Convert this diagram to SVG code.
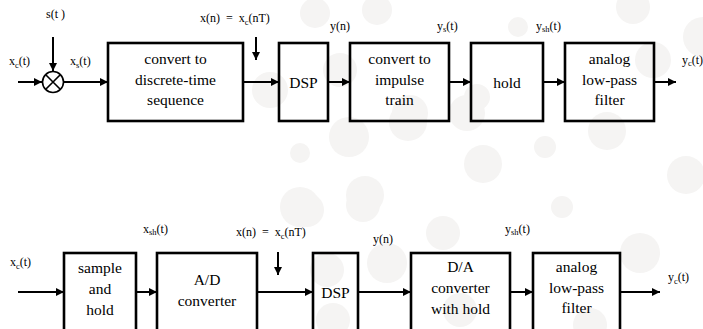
<svg xmlns="http://www.w3.org/2000/svg" width="703" height="329" viewBox="0 0 703 329">
<defs>
<marker id="ah" viewBox="0 0 10 10" refX="10" refY="5" markerWidth="9" markerHeight="8" markerUnits="userSpaceOnUse" orient="auto">
<path d="M0,0 L10,5 L0,10 z" fill="#000"/>
</marker>
</defs>
<style>
.bg{fill:#f5f4f3}
.box{fill:none;stroke:#000;stroke-width:2.6}
.ln{fill:none;stroke:#000;stroke-width:2;marker-end:url(#ah)}
text{font-family:'Liberation Serif','Times New Roman','DejaVu Serif',serif;fill:#000}
.bt{font-size:15.5px;text-anchor:middle}
.lb{font-size:12px}
.sb{font-size:8.5px}
</style>
<rect width="703" height="329" fill="#fff"/>
<g id="background">
<circle class="bg" cx="315" cy="13" r="15"/>
<circle class="bg" cx="377" cy="10" r="15"/>
<circle class="bg" cx="340" cy="70" r="17"/>
<circle class="bg" cx="270" cy="90" r="18"/>
<circle class="bg" cx="410" cy="113" r="18"/>
<circle class="bg" cx="518" cy="27" r="10"/>
<circle class="bg" cx="633" cy="7" r="17"/>
<circle class="bg" cx="653" cy="60" r="18"/>
<circle class="bg" cx="703" cy="37" r="20"/>
<circle class="bg" cx="477" cy="97" r="13"/>
<circle class="bg" cx="349" cy="137" r="20"/>
<circle class="bg" cx="408" cy="122" r="19"/>
<circle class="bg" cx="467" cy="113" r="18"/>
<circle class="bg" cx="545" cy="147" r="11"/>
<circle class="bg" cx="483" cy="164" r="19"/>
<circle class="bg" cx="607" cy="131" r="19"/>
<circle class="bg" cx="686" cy="175" r="19"/>
<circle class="bg" cx="365" cy="195" r="19"/>
<circle class="bg" cx="562" cy="207" r="11"/>
<circle class="bg" cx="307" cy="210" r="17"/>
<circle class="bg" cx="300" cy="153" r="10"/>
<circle class="bg" cx="300" cy="207" r="20"/>
<circle class="bg" cx="363" cy="205" r="17"/>
<circle class="bg" cx="387" cy="263" r="20"/>
<circle class="bg" cx="327" cy="270" r="17"/>
<circle class="bg" cx="443" cy="233" r="17"/>
<circle class="bg" cx="460" cy="310" r="17"/>
<circle class="bg" cx="333" cy="320" r="17"/>
<circle class="bg" cx="640" cy="253" r="20"/>
<circle class="bg" cx="590" cy="325" r="17"/>
</g>
<g id="connectors">
<line class="ln" x1="18" y1="82" x2="42" y2="82"/>
<line class="ln" x1="53" y1="37" x2="53" y2="71"/>
<line class="ln" x1="64" y1="82" x2="108" y2="82"/>
<line class="ln" x1="243" y1="82" x2="279" y2="82"/>
<line class="ln" x1="256" y1="37" x2="256" y2="60"/>
<line class="ln" x1="328" y1="82" x2="350" y2="82"/>
<line class="ln" x1="449" y1="82" x2="471" y2="82"/>
<line class="ln" x1="543" y1="82" x2="565" y2="82"/>
<line class="ln" x1="654" y1="82" x2="676" y2="82"/>
<line class="ln" x1="18" y1="292" x2="64" y2="292"/>
<line class="ln" x1="136" y1="292" x2="157" y2="292"/>
<line class="ln" x1="257" y1="292" x2="313" y2="292"/>
<line class="ln" x1="278" y1="252" x2="278" y2="275"/>
<line class="ln" x1="358" y1="292" x2="411" y2="292"/>
<line class="ln" x1="510" y1="292" x2="533" y2="292"/>
<line class="ln" x1="620" y1="292" x2="660" y2="292"/>
</g>
<g id="mult">
<circle cx="53" cy="82" r="10.5" fill="#fff" stroke="#000" stroke-width="1.6"/>
<path d="M46,75 L60,89 M60,75 L46,89" stroke="#000" stroke-width="1.6"/>
</g>
<g id="n1"><rect class="box" x="108" y="43" width="135" height="78"/>
<text class="bt" x="175.5" y="64">convert to</text><text class="bt" x="175.5" y="85">discrete-time</text><text class="bt" x="175.5" y="105">sequence</text></g>
<g id="n2"><rect class="box" x="279" y="43" width="49" height="78"/>
<text class="bt" x="303.5" y="88">DSP</text></g>
<g id="n3"><rect class="box" x="350" y="43" width="99" height="78"/>
<text class="bt" x="399.5" y="64">convert to</text><text class="bt" x="399.5" y="85">impulse</text><text class="bt" x="399.5" y="105">train</text></g>
<g id="n4"><rect class="box" x="471" y="43" width="72" height="78"/>
<text class="bt" x="507" y="88">hold</text></g>
<g id="n5"><rect class="box" x="565" y="43" width="89" height="78"/>
<text class="bt" x="609.5" y="64">analog</text><text class="bt" x="609.5" y="85">low-pass</text><text class="bt" x="609.5" y="105">filter</text></g>
<g id="m1"><rect class="box" x="64" y="253" width="72" height="90"/>
<text class="bt" x="100" y="273">sample</text><text class="bt" x="100" y="294">and</text><text class="bt" x="100" y="315">hold</text></g>
<g id="m2"><rect class="box" x="157" y="253" width="100" height="90"/>
<text class="bt" x="207" y="285">A/D</text><text class="bt" x="207" y="306">converter</text></g>
<g id="m3"><rect class="box" x="313" y="253" width="45" height="90"/>
<text class="bt" x="335.5" y="298">DSP</text></g>
<g id="m4"><rect class="box" x="411" y="253" width="99" height="90"/>
<text class="bt" x="460.5" y="272">D/A</text><text class="bt" x="460.5" y="293">converter</text><text class="bt" x="460.5" y="314">with hold</text></g>
<g id="m5"><rect class="box" x="533" y="253" width="87" height="90"/>
<text class="bt" x="576.5" y="272">analog</text><text class="bt" x="576.5" y="293">low-pass</text><text class="bt" x="576.5" y="313">filter</text></g>
<g id="labels">
<text class="lb" x="46" y="18">s(t )</text>
<text class="lb" x="9" y="65">x<tspan class="sb" dy="3">c</tspan><tspan dy="-3">(t)</tspan></text>
<text class="lb" x="70" y="65">x<tspan class="sb" dy="3">s</tspan><tspan dy="-3">(t)</tspan></text>
<text class="lb" x="200" y="22" xml:space="preserve">x(n)  =  x<tspan class="sb" dy="3">c</tspan><tspan dy="-3">(nT)</tspan></text>
<text class="lb" x="330" y="30">y(n)</text>
<text class="lb" x="437" y="30">y<tspan class="sb" dy="2">s</tspan><tspan dy="-2">(t)</tspan></text>
<text class="lb" x="536" y="30">y<tspan class="sb" dy="2">sh</tspan><tspan dy="-2">(t)</tspan></text>
<text class="lb" x="682" y="64">y<tspan class="sb" dy="2">c</tspan><tspan dy="-2">(t)</tspan></text>
<text class="lb" x="10" y="266">x<tspan class="sb" dy="3">c</tspan><tspan dy="-3">(t)</tspan></text>
<text class="lb" x="143" y="233">x<tspan class="sb" dy="2">sh</tspan><tspan dy="-2">(t)</tspan></text>
<text class="lb" x="236" y="236" xml:space="preserve">x(n)  =  x<tspan class="sb" dy="3">c</tspan><tspan dy="-3">(nT)</tspan></text>
<text class="lb" x="373" y="243">y(n)</text>
<text class="lb" x="505" y="233">y<tspan class="sb" dy="2">sh</tspan><tspan dy="-2">(t)</tspan></text>
<text class="lb" x="668" y="281">y<tspan class="sb" dy="3">c</tspan><tspan dy="-3">(t)</tspan></text>
</g>
</svg>
